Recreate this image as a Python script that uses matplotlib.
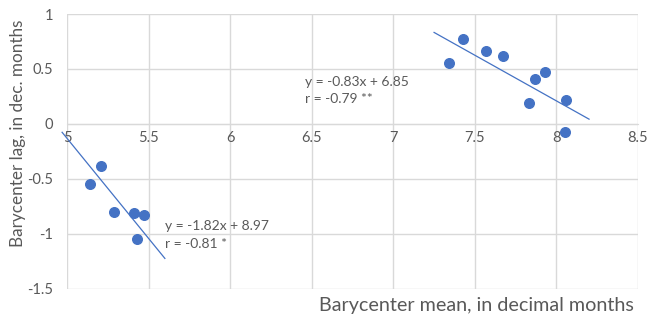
import matplotlib
matplotlib.use("Agg")
import numpy as np
import matplotlib.pyplot as plt

# --- data ---
early_x = [5.14, 5.21, 5.29, 5.41, 5.47, 5.43]
early_y = [-0.55, -0.38, -0.80, -0.81, -0.83, -1.05]
late_x = [7.34, 7.43, 7.57, 7.67, 7.93, 7.87, 7.83, 8.06, 8.05]
late_y = [0.55, 0.77, 0.66, 0.62, 0.47, 0.41, 0.19, 0.22, -0.07]

# trend lines (slope, intercept, x range)
early_fit = (-1.82, 8.97, 4.97, 5.60)
late_fit = (-0.83, 6.85, 7.25, 8.20)
early_label = ["y = -1.82x + 8.97", "r = -0.81 *"]
late_label = ["y = -0.83x + 6.85", "r = -0.79 **"]

x_ticks = [5, 5.5, 6, 6.5, 7, 7.5, 8, 8.5]
x_tick_labels = ["5", "5.5", "6", "6.5", "7", "7.5", "8", "8.5"]
y_ticks = [-1.5, -1, -0.5, 0, 0.5, 1]
y_tick_labels = ["-1.5", "-1", "-0.5", "0", "0.5", "1"]

plt.rcParams['font.family'] = ['Lato', 'DejaVu Sans']
text_gray = "#595959"
grid_gray = "#d9d9d9"
blue = "#4472c4"

fig = plt.figure(figsize=(6.5, 3.21), dpi=100)
ax = fig.add_axes([67 / 650, 1 - 289 / 321, (638 - 67) / 650, (289 - 14) / 321])

ax.set_xlim(5, 8.5)
ax.set_ylim(-1.5, 1)
ax.set_xticks(x_ticks)
ax.set_xticklabels(x_tick_labels)
ax.set_yticks(y_ticks)
ax.set_yticklabels(y_tick_labels)
ax.grid(True, color=grid_gray, linewidth=1)
ax.set_axisbelow(True)

for s in ["top", "right", "left"]:
    ax.spines[s].set_visible(False)
ax.spines["bottom"].set_position(("data", 0))
ax.spines["bottom"].set_color(grid_gray)
ax.tick_params(axis="both", length=0, colors=text_gray, labelsize=10.5)
ax.tick_params(axis="x", pad=5)
ax.tick_params(axis="y", pad=10)

# points
ax.scatter(early_x, early_y, s=48, color=blue, zorder=3, clip_on=False)
ax.scatter(late_x, late_y, s=48, color=blue, zorder=3, clip_on=False)

# trend lines
for slope, icpt, x0, x1 in (early_fit, late_fit):
    xs = np.array([x0, x1])
    ax.plot(xs, slope * xs + icpt, color=blue, linewidth=0.9, clip_on=False, zorder=2)

# equation boxes
ax.text(5.60, -0.93, early_label[0], color=text_gray, fontsize=10, va="center", ha="left")
ax.text(5.60, -1.09, early_label[1], color=text_gray, fontsize=10, va="center", ha="left")
ax.text(6.46, 0.38, late_label[0], color=text_gray, fontsize=10, va="center", ha="left")
ax.text(6.46, 0.23, late_label[1], color=text_gray, fontsize=10, va="center", ha="left")

# axis titles
fig.text(18 / 650, 1 - 133 / 321, "Barycenter lag, in dec. months", rotation=90,
         color=text_gray, fontsize=12.3, ha="center", va="center")
fig.text(634 / 650, 1 - 306 / 321, "Barycenter mean, in decimal months",
         color=text_gray, fontsize=14.2, ha="right", va="center")

fig.savefig("out.png", dpi=100)
